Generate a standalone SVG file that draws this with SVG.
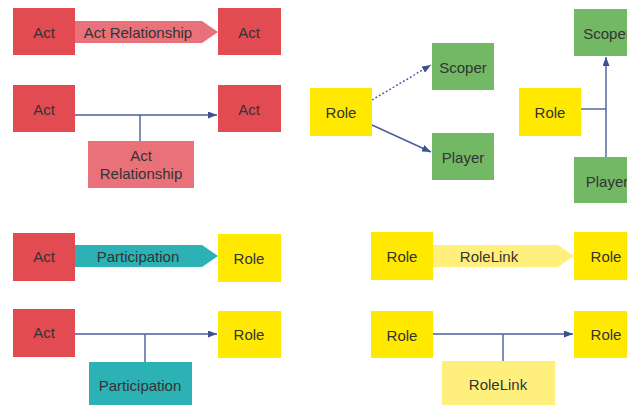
<svg xmlns="http://www.w3.org/2000/svg" width="627" height="405" viewBox="0 0 627 405">
<style>
text{font-family:"Liberation Sans",Arial,sans-serif;font-size:15px;fill:#333;text-anchor:middle;dominant-baseline:central}
.act{fill:#E34B53}
.actrel{fill:#E9717A}
.role{fill:#FFE900}
.rolelink{fill:#FFF07E}
.ent{fill:#72B865}
.part{fill:#2CB2B4}
.ln{stroke:#4A5D9C;stroke-width:1.4;fill:none}
</style>
<defs>
<marker id="ah" markerWidth="9" markerHeight="7" refX="9" refY="3.5" orient="auto" markerUnits="userSpaceOnUse">
<path d="M0,0 L9,3.5 L0,7 Z" fill="#3C5096"/>
</marker>
</defs>
<g id="connectors">
<path class="ln" d="M75,115 H217" marker-end="url(#ah)"/>
<path class="ln" d="M140,115 V141"/>
<path class="ln" d="M75,334 H217" marker-end="url(#ah)"/>
<path class="ln" d="M145,334 V362"/>
<path class="ln" d="M433,334 H573" marker-end="url(#ah)"/>
<path class="ln" d="M503,334 V361"/>
<path class="ln" d="M372,100 L431,65" stroke-dasharray="2,2" marker-end="url(#ah)"/>
<path class="ln" d="M372,125 L431,152" marker-end="url(#ah)"/>
<path class="ln" d="M581,109 H606"/>
<path class="ln" d="M606,157 V57" marker-end="url(#ah)"/>
</g>
<g id="band-actrel"><path class="actrel" d="M75,21 H202 L218,32 L202,43 H75 Z"/><text x="138" y="32">Act Relationship</text></g>
<g id="band-part"><path class="part" d="M75,245 H202 L218,256 L202,267 H75 Z"/><text x="138" y="256">Participation</text></g>
<g id="band-rolelink"><path class="rolelink" d="M433,245 H558 L574,256 L558,267 H433 Z"/><text x="489" y="256">RoleLink</text></g>
<g id="act1"><rect class="act" x="13" y="8" width="62" height="47"/><text x="44" y="32">Act</text></g>
<g id="act2"><rect class="act" x="218" y="8" width="63" height="47"/><text x="249" y="32">Act</text></g>
<g id="act3"><rect class="act" x="13" y="85" width="62" height="47"/><text x="44" y="109">Act</text></g>
<g id="act4"><rect class="act" x="218" y="85" width="63" height="47"/><text x="249" y="109">Act</text></g>
<g id="actrel-box"><rect class="actrel" x="88" y="141" width="106" height="47"/><text x="141" y="155">Act</text><text x="141" y="173">Relationship</text></g>
<g id="role1"><rect class="role" x="310" y="88" width="62" height="48"/><text x="341" y="112">Role</text></g>
<g id="scoper1"><rect class="ent" x="432" y="43" width="62" height="47"/><text x="463" y="67">Scoper</text></g>
<g id="player1"><rect class="ent" x="432" y="133" width="62" height="47"/><text x="463" y="157">Player</text></g>
<g id="role2"><rect class="role" x="519" y="88" width="62" height="48"/><text x="550" y="112">Role</text></g>
<g id="scoper2"><rect class="ent" x="574" y="9" width="62" height="47"/><text x="607" y="33">Scoper</text></g>
<g id="player2"><rect class="ent" x="574" y="157" width="62" height="46"/><text x="607" y="181">Player</text></g>
<g id="act5"><rect class="act" x="13" y="233" width="62" height="48"/><text x="44" y="256">Act</text></g>
<g id="role3"><rect class="role" x="218" y="234" width="63" height="48"/><text x="249" y="258">Role</text></g>
<g id="act6"><rect class="act" x="13" y="309" width="62" height="48"/><text x="44" y="332">Act</text></g>
<g id="role4"><rect class="role" x="218" y="311" width="63" height="47"/><text x="249" y="334">Role</text></g>
<g id="part-box"><rect class="part" x="89" y="362" width="103" height="43"/><text x="140" y="385">Participation</text></g>
<g id="role5"><rect class="role" x="371" y="232" width="62" height="48"/><text x="402" y="256">Role</text></g>
<g id="role6"><rect class="role" x="574" y="232" width="62" height="48"/><text x="606" y="256">Role</text></g>
<g id="role7"><rect class="role" x="371" y="311" width="62" height="47"/><text x="402" y="335">Role</text></g>
<g id="role8"><rect class="role" x="574" y="311" width="62" height="47"/><text x="606" y="334">Role</text></g>
<g id="rolelink-box"><rect class="rolelink" x="442" y="361" width="113" height="44"/><text x="498" y="384">RoleLink</text></g>
</svg>
